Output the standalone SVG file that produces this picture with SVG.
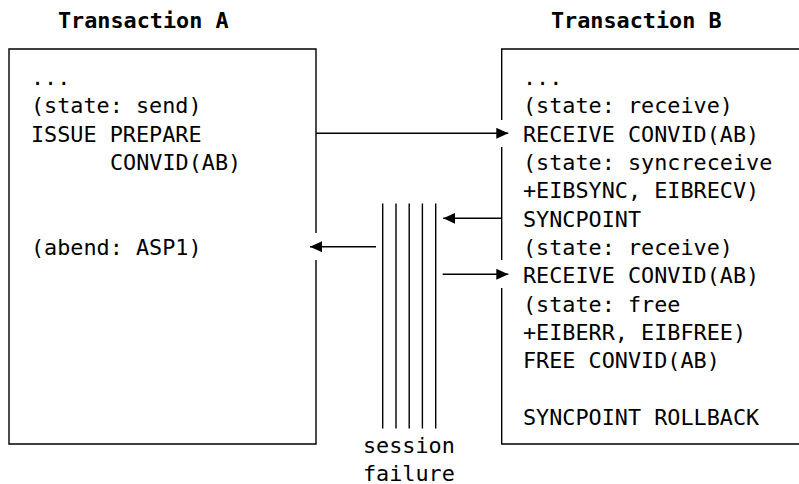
<svg xmlns="http://www.w3.org/2000/svg" width="799" height="484" viewBox="0 0 799 484">
<style>
.t{font-family:"DejaVu Sans Mono","Liberation Mono",monospace;font-size:21.8px;fill:#000}
.h{font-weight:bold}
.ln{stroke:#000;stroke-width:1.4;fill:none}
</style>
<defs>
<marker id="ah" markerUnits="userSpaceOnUse" markerWidth="13" markerHeight="12" refX="12" refY="5.5" orient="auto">
<path d="M0,0 L12,5.5 L0,11 z" fill="#000"/>
</marker>
</defs>
<rect width="799" height="484" fill="#fff"/>
<g id="transactionA">
<text class="t h" x="58" y="28">Transaction A</text>
<path class="ln" d="M316,233 V49 H9 V444 H316 V260"/>
<text class="t" x="31" y="85">...</text>
<text class="t" x="31" y="113.3">(state: send)</text>
<text class="t" x="31" y="141.7">ISSUE PREPARE</text>
<text class="t" x="110" y="170">CONVID(AB)</text>
<text class="t" x="31" y="255">(abend: ASP1)</text>
</g>
<g id="transactionB">
<text class="t h" x="551" y="28">Transaction B</text>
<path class="ln" d="M799,49 H501.7 V120 M501.7,147 V260 M501.7,288 V444 H799"/>
<text class="t" x="523" y="85">...</text>
<text class="t" x="523" y="113.3">(state: receive)</text>
<text class="t" x="523" y="141.7">RECEIVE CONVID(AB)</text>
<text class="t" x="523" y="170">(state: syncreceive</text>
<text class="t" x="523" y="198.3">+EIBSYNC, EIBRECV)</text>
<text class="t" x="523" y="226.7">SYNCPOINT</text>
<text class="t" x="523" y="255">(state: receive)</text>
<text class="t" x="523" y="283.3">RECEIVE CONVID(AB)</text>
<text class="t" x="523" y="311.7">(state: free</text>
<text class="t" x="523" y="340">+EIBERR, EIBFREE)</text>
<text class="t" x="523" y="368.3">FREE CONVID(AB)</text>
<text class="t" x="523" y="425">SYNCPOINT ROLLBACK</text>
</g>
<g id="sessionFailure">
<path class="ln" d="M382.7,203.5 V428.5 M396,203.5 V428.5 M409.2,203.5 V428.5 M422.4,203.5 V428.5 M435.7,203.5 V428.5"/>
<text class="t" x="363" y="452.7">session</text>
<text class="t" x="363" y="480.5">failure</text>
</g>
<g id="connectors">
<line class="ln" x1="316" y1="133.3" x2="508.3" y2="133.3" marker-end="url(#ah)"/>
<line class="ln" x1="501.7" y1="218.3" x2="443.3" y2="218.3" marker-end="url(#ah)"/>
<line class="ln" x1="376" y1="246.7" x2="310" y2="246.7" marker-end="url(#ah)"/>
<line class="ln" x1="442.7" y1="274.3" x2="508.3" y2="274.3" marker-end="url(#ah)"/>
</g>
</svg>
